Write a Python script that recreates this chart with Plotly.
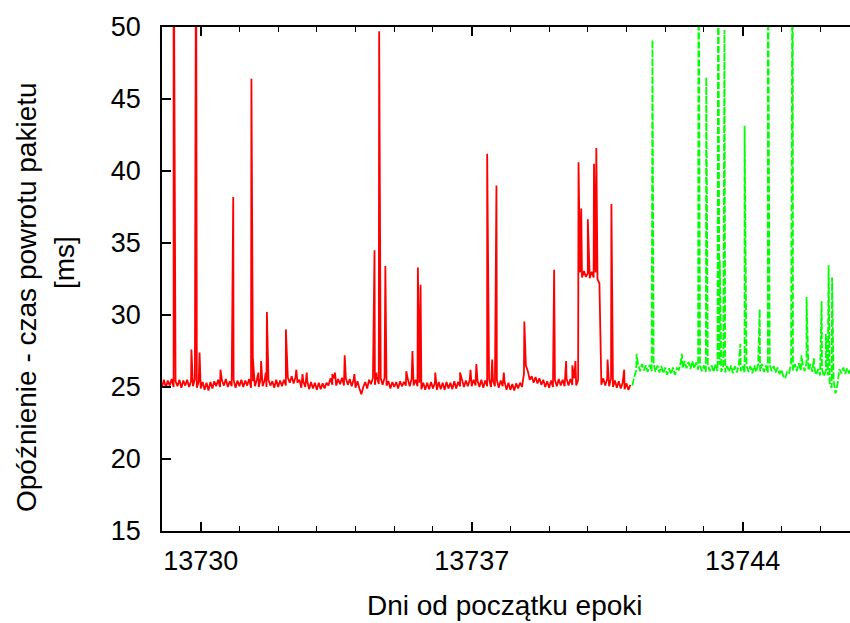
import plotly.graph_objects as go

# ---------------- data ----------------
step = 0.05  # days between baseline samples

red_start = 13729.0
red_base = [
    # 13729
    25.0, 25.5, 24.95, 25.45, 25.1, 25.55, 25.0, 25.4, 25.05, 25.5, 24.95, 25.45, 25.1, 25.5, 25.0, 25.4, 25.05, 25.55, 24.95, 25.4,
    # 13730
    24.9, 25.35, 24.8, 25.3, 24.75, 25.35, 24.9, 25.4, 25.05, 25.5, 25.0, 25.45, 25.1, 25.55, 25.0, 25.4, 25.05, 25.5, 24.95, 25.45,
    # 13731
    25.05, 25.5, 25.0, 25.45, 25.1, 25.55, 24.95, 25.4, 25.05, 25.5, 25.0, 25.6, 25.05, 25.45, 25.0, 25.5, 25.1, 25.4, 24.95, 25.5,
    # 13732
    25.0, 25.45, 25.05, 25.5, 25.1, 25.65, 25.3, 25.75, 25.25, 25.7, 25.3, 25.5, 24.95, 25.4, 25.0, 25.45, 24.85, 25.35, 24.9, 25.3,
    # 13733
    24.8, 25.3, 24.85, 25.25, 24.9, 25.3, 25.1, 25.6, 25.15, 25.6, 25.1, 25.55, 25.2, 25.65, 25.1, 25.6, 25.15, 25.55, 25.05, 25.5,
    # 13734
    24.95, 25.4, 24.9, 24.5, 25.0, 25.35, 24.9, 25.5, 25.2, 25.65, 25.15, 25.7, 25.2, 25.6, 25.15, 25.65, 25.1, 25.4, 24.9, 25.35,
    # 13735
    25.0, 25.35, 24.9, 25.4, 25.05, 25.35, 25.1, 25.55, 25.05, 25.6, 25.1, 25.5, 25.05, 25.3, 24.85, 25.3, 24.8, 25.3, 24.85, 25.35,
    # 13736
    24.9, 25.3, 24.8, 25.35, 24.85, 25.3, 24.8, 25.35, 24.9, 25.3, 24.85, 25.4, 24.9, 25.35, 25.05, 25.5, 25.0, 25.45, 25.05, 25.5,
    # 13737
    25.05, 25.5, 25.1, 25.45, 25.0, 25.5, 24.95, 25.45, 25.05, 25.55, 25.0, 25.45, 25.05, 25.5, 24.95, 25.45, 25.05, 25.35, 24.8, 25.3,
    # 13738
    24.8, 25.2, 24.75, 25.25, 24.9, 25.3, 25.0, 25.9, 26.5, 26.1, 25.5, 25.75, 25.3, 25.7, 25.25, 25.6, 25.15, 25.5, 25.0, 25.4,
    # 13739
    24.95, 25.45, 25.0, 25.5, 25.05, 25.55, 25.1, 25.5, 25.05, 25.6, 25.1, 25.55, 25.15, 25.6, 25.1, 25.5, 32.95, 32.6, 33.05, 32.65,
    # 13740
    32.9, 32.55, 33.0, 32.6, 32.95, 32.5, 32.2, 25.15, 25.6, 25.1, 25.55, 25.05, 25.6, 25.0, 25.45, 24.95, 25.4, 24.9, 25.3, 24.85,
    # 13741
    25.25, 24.8, 25.15,
]
red_spike_x = [13729.30, 13729.76, 13729.88, 13729.97, 13730.51, 13730.84, 13731.31, 13731.35, 13731.49,
               13731.56, 13731.68, 13731.71, 13732.20, 13732.47, 13732.63, 13732.74, 13733.40, 13733.47,
               13733.72, 13733.97, 13734.49, 13734.54, 13734.61, 13734.77, 13735.31, 13735.47, 13735.61,
               13735.68, 13736.06, 13736.70, 13736.97, 13737.12, 13737.40, 13737.53, 13737.64, 13737.83,
               13738.36, 13739.13, 13739.44, 13739.60, 13739.68, 13739.76, 13739.83, 13740.00, 13740.16,
               13740.22, 13740.51, 13740.61, 13740.94]
red_spike_y = [60.0, 27.6, 60.0, 27.4, 26.2, 38.2, 46.4, 26.9, 26.0,
               26.8, 26.0, 30.2, 29.0, 26.2, 25.9, 26.0, 25.9, 26.0,
               27.2, 25.9, 34.5, 26.0, 49.7, 33.4, 26.1, 27.5, 33.3,
               32.1, 26.0, 26.0, 26.2, 26.6, 41.2, 26.9, 39.0, 26.0,
               29.55, 33.15, 26.8, 26.5, 26.8, 40.6, 37.4, 36.65, 40.5,
               41.6, 26.9, 37.7, 26.2]

green_start = 13741.15
green_base = [
    # 13741.15 - 13741.95
    25.1, 25.7, 26.15, 26.55, 26.1, 26.6, 26.15, 26.5, 26.05, 26.55, 26.1, 26.6, 26.05, 26.5, 26.0, 26.45, 25.95,
    # 13742
    26.35, 25.85, 26.3, 25.9, 26.35, 25.85, 26.3, 26.2, 26.7, 26.3, 26.8, 26.3, 26.75, 26.25, 26.8, 26.3, 26.7, 26.2, 26.45, 26.1,
    # 13743
    26.5, 26.05, 26.55, 26.1, 26.5, 26.05, 26.6, 26.1, 26.55, 26.05, 26.5, 26.0, 26.45, 26.05, 26.5, 25.95, 26.45, 26.0, 26.5, 26.1,
    # 13744
    26.45, 26.0, 26.5, 26.05, 26.45, 25.95, 26.5, 26.05, 26.55, 26.1, 26.6, 26.05, 26.5, 26.0, 26.55, 26.1, 26.45, 26.0, 26.35, 25.9,
    # 13745
    26.2, 25.75, 25.6, 26.1, 26.0, 26.55, 26.15, 26.6, 26.1, 26.65, 26.15, 26.6, 26.1, 26.7, 26.15, 26.6, 26.05, 26.35, 25.85, 26.25,
    # 13746.00 - 13746.80
    25.8, 26.2, 25.75, 26.15, 25.8, 25.2, 24.95, 25.4, 24.55, 25.2, 26.25, 25.95, 26.35, 25.9, 26.3, 25.95, 26.25,
]
green_spike_x = [13741.26, 13741.67, 13742.43, 13742.86, 13743.06, 13743.37, 13743.41, 13743.53, 13743.94,
                 13744.05, 13744.44, 13744.65, 13745.29, 13745.52, 13745.65, 13745.84, 13746.04, 13746.15,
                 13746.22, 13746.31]
green_spike_y = [27.3, 49.1, 27.3, 60.0, 46.5, 60.0, 33.8, 49.8, 28.0,
                 43.15, 30.4, 60.0, 60.0, 27.2, 31.25, 27.0, 30.95, 28.7,
                 33.45, 32.6]

x_ticks = [13730, 13737, 13744]
x_title = "Dni od początku epoki"
y_title_lines = ["Opóźnienie - czas powrotu pakietu", "[ms]"]


def build(start, base, sx, sy):
    pts = [(round(start + i * step, 4), v) for i, v in enumerate(base)]
    pts += list(zip(sx, sy))
    pts.sort(key=lambda p: p[0])
    return [p[0] for p in pts], [p[1] for p in pts]


rx, ry = build(red_start, red_base, red_spike_x, red_spike_y)
gx, gy = build(green_start, green_base, green_spike_x, green_spike_y)

# ---------------- figure ----------------
W, H = 850, 623
ML, MR, MT, MB = 162, 0, 27, 92
plot_w = W - ML - MR
plot_h = H - MT - MB
px_per_day = 38.71

fig = go.Figure()
fig.add_trace(go.Scatter(x=rx, y=ry, mode="lines",
                         line=dict(color="#ff0000", width=1.8, simplify=False), showlegend=False))
fig.add_trace(go.Scatter(x=gx, y=gy, mode="lines",
                         line=dict(color="#00ff00", width=1.8, dash="7px,2px", simplify=False),
                         showlegend=False))

font = "Liberation Sans, Arial, Helvetica, sans-serif"
fig.update_layout(
    width=W, height=H,
    margin=dict(l=ML, r=MR, t=MT, b=MB, autoexpand=False),
    paper_bgcolor="white", plot_bgcolor="white",
    font=dict(family=font, color="black", size=27),
    xaxis=dict(range=[13729.0, 13729.0 + plot_w / px_per_day],
               tickvals=x_ticks, ticktext=[str(v) for v in x_ticks],
               ticks="inside", ticklen=9, tickwidth=1.5, tickcolor="black",
               minor=dict(dtick=1, tick0=13730, ticks="inside", ticklen=5, tickwidth=1, tickcolor="black"),
               showline=True, linecolor="black", linewidth=1.5, mirror="ticks",
               showgrid=False, zeroline=False, automargin=False,
               ticklabelstandoff=5,
               tickfont=dict(family=font, size=27, color="black")),
    yaxis=dict(range=[15, 50], dtick=5, tick0=15,
               ticks="inside", ticklen=9, tickwidth=1.5, tickcolor="black",
               showline=True, linecolor="black", linewidth=1.5, mirror=False,
               showgrid=False, zeroline=False, automargin=False,
               ticklabelstandoff=14,
               tickfont=dict(family=font, size=27, color="black")),
)

def px2paper_x(px):
    return (px - ML) / plot_w

def px2paper_y(py):
    return (H - MB - py) / plot_h

fig.add_annotation(text=x_title, xref="paper", yref="paper",
                   x=px2paper_x(505), y=px2paper_y(605), showarrow=False,
                   xanchor="center", yanchor="middle",
                   font=dict(family=font, size=28, color="black"))
fig.add_annotation(text=y_title_lines[0], xref="paper", yref="paper",
                   x=px2paper_x(26), y=px2paper_y(297), showarrow=False, textangle=-90,
                   xanchor="center", yanchor="middle",
                   font=dict(family=font, size=28, color="black"))
fig.add_annotation(text=y_title_lines[1], xref="paper", yref="paper",
                   x=px2paper_x(64), y=px2paper_y(263), showarrow=False, textangle=-90,
                   xanchor="center", yanchor="middle",
                   font=dict(family=font, size=28, color="black"))

fig.write_html("out.html")
